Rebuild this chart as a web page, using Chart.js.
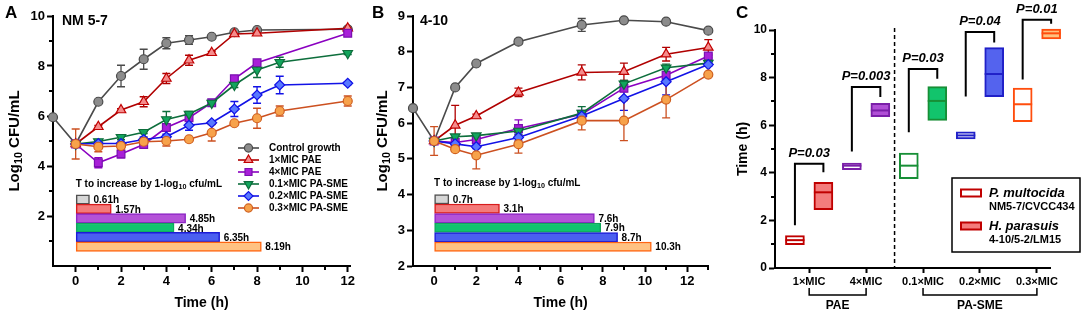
<!DOCTYPE html>
<html>
<head>
<meta charset="utf-8">
<script src="https://cdn.jsdelivr.net/npm/chart.js@4.4.0/dist/chart.umd.min.js"></script>
<style>
  body { margin: 0; background: #fff; width: 1084px; height: 314px; position: relative; overflow: hidden; }
  canvas { position: absolute; top: 0; }
</style>
</head>
<body>
<canvas id="chartA" width="360" height="314" style="left:0px"></canvas>
<canvas id="chartB" width="350" height="314" style="left:365px"></canvas>
<canvas id="chartC" width="364" height="314" style="left:720px"></canvas>
<script>
// ---------- data ----------
var seriesNames = ['Control growth', '1×MIC PAE', '4×MIC PAE', '0.1×MIC PA-SME', '0.2×MIC PA-SME', '0.3×MIC PA-SME'];

// panel A : NM 5-7
var timeA = [-1, 0, 1, 2, 3, 4, 5, 6, 7, 8, 9, 12];
var controlA = [5.95, 4.88, 6.57, 7.6, 8.27, 8.91, 9.04, 9.17, 9.35, 9.44, null, 9.47];
var mic1A    = [null, 4.88, 5.57, 6.24, 6.57, 7.5, 8.23, 8.53, 9.28, 9.31, null, 9.51];
var mic4A    = [null, 4.88, 4.13, 4.48, 4.86, 5.54, 5.93, 6.53, 7.49, 8.13, null, 9.31];
var sme01A   = [null, 4.88, 4.98, 5.15, 5.35, 5.86, 6.08, 6.52, 7.24, 7.84, 8.15, 8.51];
var sme02A   = [null, 4.88, 4.9, 4.9, 5.06, 5.17, 5.63, 5.73, 6.28, 6.84, 7.24, 7.31];
var sme03A   = [null, 4.88, 4.77, 4.8, 4.97, 5.0, 5.07, 5.33, 5.71, 5.91, 6.2, 6.6];
var controlAErr = [0, 0, 0, 0.43, 0.4, 0.22, 0.17, 0.05, 0.05, 0.05, 0, 0.05];
var mic1AErr    = [0, 0, 0.05, 0.05, 0.2, 0.2, 0.2, 0.05, 0.05, 0.05, 0, 0.05];
var mic4AErr    = [0, 0, 0.2, 0.15, 0.1, 0.1, 0.1, 0.05, 0.05, 0.05, 0, 0.05];
var sme01AErr   = [0, 0, 0.05, 0.1, 0.05, 0.32, 0.1, 0.05, 0.1, 0.3, 0.2, 0.05];
var sme02AErr   = [0, 0, 0.1, 0.33, 0.1, 0.1, 0.2, 0.05, 0.3, 0.33, 0.35, 0.05];
var sme03AErr   = [0, 0.6, 0.2, 0.1, 0.15, 0.2, 0.05, 0.33, 0.05, 0.4, 0.2, 0.2];
var riseTimeA = [0.61, 1.57, 4.85, 4.34, 6.35, 8.19];

// panel B : 4-10
var timeB = [-1, 0, 1, 2, 4, 7, 9, 11, 13];
var controlB = [6.42, 5.5, 7.0, 7.67, 8.28, 8.75, 8.88, 8.84, 8.59];
var mic1B    = [null, 5.5, 5.94, 6.2, 6.86, 7.42, 7.44, 7.93, 8.12];
var mic4B    = [null, 5.5, 5.46, 5.54, 5.85, 6.25, 6.98, 7.34, 7.88];
var sme01B   = [null, 5.5, 5.62, 5.65, 5.78, 6.28, 7.1, 7.55, 7.68];
var sme02B   = [null, 5.5, 5.42, 5.34, 5.6, 6.2, 6.69, 7.16, 7.64];
var sme03B   = [null, 5.5, 5.27, 5.1, 5.41, 6.07, 6.07, 6.66, 7.36];
var controlBErr = [0, 0, 0, 0, 0.07, 0.18, 0.05, 0.05, 0.05];
var mic1BErr    = [0, 0, 0.56, 0.05, 0.12, 0.21, 0.24, 0.19, 0.22];
var mic4BErr    = [0, 0, 0.05, 0.05, 0.24, 0.1, 0.1, 0.1, 0.05];
var sme01BErr   = [0, 0, 0.05, 0.05, 0.1, 0.18, 0.1, 0.1, 0.05];
var sme02BErr   = [0, 0, 0.05, 0.05, 0.1, 0.1, 0.33, 0.37, 0.05];
var sme03BErr   = [0, 0.4, 0.05, 0.38, 0.25, 0.26, 0.56, 0.51, 0.05];
var riseTimeB = [0.7, 3.1, 7.6, 7.9, 8.7, 10.3];

// panel C : time to rise, two species per treatment
var groupsC = ['1×MIC', '4×MIC', '0.1×MIC', '0.2×MIC', '0.3×MIC'];
var multocidaLow  = [0.98, 4.13, 3.75, 5.42, 6.15];
var multocidaHigh = [1.36, 4.41, 4.83, 5.72, 7.56];
var multocidaMid  = [1.17, 4.3, 4.3, 5.57, 6.88];
var parasuisLow   = [2.45, 6.36, 6.2, 7.2, 9.62];
var parasuisHigh  = [3.6, 6.92, 7.62, 9.26, 10.04];
var parasuisMid   = [3.18, 6.62, 7.02, 8.15, 9.86];
var pValues = ['P=0.03', 'P=0.003', 'P=0.03', 'P=0.04', 'P=0.01'];
var bracketTop   = [4.38, 7.6, 8.36, 9.92, 10.43];
var bracketLeft  = [1.8, 4.9, 5.7, 7.21, 7.92];
var bracketRight = [4.02, 7.18, 7.95, 9.48, 10.26];

// ---------- styles ----------
var FONT = '"Liberation Sans", Arial, sans-serif';
var lineColors  = ['#4a4a4a', '#b00000', '#8a00c0', '#0d6e3c', '#1212e6', '#cc5020'];
var pointFills  = ['#8c8c8c', '#f58c8c', '#a81fd8', '#12a55c', '#5878ff', '#f7a24b'];
var pointEdges  = ['#4a4a4a', '#c00000', '#7a10b0', '#0d6e3c', '#1212e6', '#d0601f'];
var pointShapes = ['circle', 'triangle', 'rect', 'triangle', 'rectRot', 'circle'];
var pointRot    = [0, 0, 0, 180, 0, 0];
var pointSizes  = [4.5, 5.5, 5.5, 5.5, 5, 4.5];
var barFills = ['#d6d6d6', '#f47a7a', '#b452d8', '#10c46e', '#4b5ff0', '#ffc282'];
var barEdges = ['#505050', '#d81c1c', '#8c26c4', '#10a85c', '#1c1cd8', '#ff6612'];
var boxEdges = ['#c00000', '#7a1fa8', '#178f36', '#2020c8', '#ff4d0d'];
var boxFills = ['#f47c7c', '#b04fd6', '#12c46c', '#5463ee', '#ffc27f'];

Chart.defaults.font.family = FONT;
Chart.defaults.font.weight = 'bold';
Chart.defaults.color = '#000';
Chart.defaults.animation = false;

function fixSize(size) {
  return function (scale) {
    if (scale.axis === 'x') scale.height = size; else scale.width = size;
  };
}
function ticksAt(values) {
  return function (scale) {
    scale.ticks = values.map(function (v) { return { value: v }; });
  };
}
function axis(opts) {
  return Object.assign({
    type: 'linear',
    offset: false,
    grid: { drawOnChartArea: false, offset: false, tickLength: 6, tickWidth: 2, tickColor: '#000' },
    border: { color: '#000', width: 2 },
    ticks: { font: { size: 13, weight: 'bold' }, color: '#000', padding: 2, maxRotation: 0, autoSkip: false }
  }, opts);
}

// text with a subscript part: parts = [[text, isSub], ...]
function subText(ctx, parts, x, y, size, align) {
  var w = 0;
  parts.forEach(function (p) {
    ctx.font = 'bold ' + (p[1] ? size * 0.72 : size) + 'px ' + FONT;
    w += ctx.measureText(p[0]).width;
  });
  var cx = align === 'center' ? x - w / 2 : x;
  ctx.textAlign = 'left';
  ctx.textBaseline = 'middle';
  parts.forEach(function (p) {
    var s = p[1] ? size * 0.72 : size;
    ctx.font = 'bold ' + s + 'px ' + FONT;
    ctx.fillText(p[0], cx, y + (p[1] ? size * 0.3 : 0));
    cx += ctx.measureText(p[0]).width;
  });
}

function minorTicks(ctx, chart, xs, ys) {
  var area = chart.chartArea;
  ctx.strokeStyle = '#000';
  ctx.lineWidth = 2;
  ctx.beginPath();
  (xs || []).forEach(function (v) {
    var px = Math.round(chart.scales.x.getPixelForValue(v));
    ctx.moveTo(px, area.bottom); ctx.lineTo(px, area.bottom + 4);
  });
  (ys || []).forEach(function (v) {
    var py = Math.round(chart.scales.y.getPixelForValue(v));
    ctx.moveTo(area.left, py); ctx.lineTo(area.left - 4, py);
  });
  ctx.stroke();
}

function growthDecor(opt) {
  return {
    id: 'growthDecor',
    beforeDatasetsDraw: function (chart) {
      var ctx = chart.ctx, ys = chart.scales.y;
      ctx.save();
      chart.data.datasets.forEach(function (ds, i) {
        if (!ds.errors) return;
        var meta = chart.getDatasetMeta(i);
        ctx.strokeStyle = ds.borderColor;
        ctx.lineWidth = 1.3;
        meta.data.forEach(function (el, k) {
          var e = ds.errors[k];
          if (!e) return;
          var v = ds.data[k].y;
          var top = ys.getPixelForValue(v + e), bot = ys.getPixelForValue(v - e);
          ctx.beginPath();
          ctx.moveTo(el.x, top); ctx.lineTo(el.x, bot);
          ctx.moveTo(el.x - 4, top); ctx.lineTo(el.x + 4, top);
          ctx.moveTo(el.x - 4, bot); ctx.lineTo(el.x + 4, bot);
          ctx.stroke();
        });
      });
      ctx.restore();
    },
    afterDatasetsDraw: function (chart) {
      var ctx = chart.ctx;
      ctx.save();
      chart.data.datasets.forEach(function (ds, i) {
        if (ds.type !== 'bar') return;
        ctx.font = 'bold 10px ' + FONT;
        ctx.fillStyle = '#000';
        ctx.textAlign = 'left';
        ctx.textBaseline = 'middle';
        chart.getDatasetMeta(i).data.forEach(function (el, k) {
          ctx.fillText(opt.rise[k] + 'h', el.x + 4, el.y + 1);
        });
      });
      ctx.restore();
    },
    afterDraw: function (chart) {
      var ctx = chart.ctx, area = chart.chartArea;
      var xs = chart.scales.x, ys = chart.scales.y;
      ctx.save();
      minorTicks(ctx, chart, opt.minorX, opt.minorY);
      ctx.fillStyle = '#000';

      // axis titles
      ctx.save();
      ctx.translate(opt.yTitleX, (area.top + area.bottom) / 2);
      ctx.rotate(-Math.PI / 2);
      subText(ctx, [['Log', false], ['10', true], [' CFU/mL', false]], 0, 0, 15, 'center');
      ctx.restore();
      ctx.font = 'bold 14px ' + FONT;
      ctx.textAlign = 'center';
      ctx.textBaseline = 'middle';
      ctx.fillText('Time (h)', (area.left + area.right) / 2, 303);

      // panel letter and strain
      ctx.font = 'bold 17px ' + FONT;
      ctx.textAlign = 'left';
      ctx.fillText(opt.letter, opt.letterX, 13);
      ctx.font = 'bold 14px ' + FONT;
      ctx.fillText(opt.strain, opt.strainX, 21);

      // inset title
      subText(ctx, [['T to increase by 1-log', false], ['10', true], [' cfu/mL', false]],
        xs.getPixelForValue(0), ys.getPixelForValue(opt.insetTitleY), 10, 'left');

      // legend
      if (opt.legend) {
        var L = opt.legend;
        chart.data.datasets.forEach(function (ds, s) {
          if (ds.type === 'bar') return;
          var y = L.y + s * L.step;
          ctx.strokeStyle = ds.borderColor;
          ctx.lineWidth = 1.6;
          ctx.beginPath(); ctx.moveTo(L.x, y); ctx.lineTo(L.x + 21, y); ctx.stroke();
          ctx.fillStyle = ds.pointBackgroundColor;
          ctx.strokeStyle = ds.pointBorderColor;
          ctx.lineWidth = 1.2;
          Chart.helpers.drawPoint(ctx, { pointStyle: ds.pointStyle, rotation: ds.pointRotation, radius: ds.pointRadius * 0.9, borderWidth: 1.2 }, L.x + 10.5, y);
          ctx.fillStyle = '#000';
          ctx.font = 'bold 10px ' + FONT;
          ctx.textAlign = 'left';
          ctx.textBaseline = 'middle';
          ctx.fillText(ds.label, L.x + 31, y);
        });
      }
      ctx.restore();
    }
  };
}

function buildGrowthChart(id, opt) {
  var datasets = opt.series.map(function (vals, s) {
    var pts = [], errs = [];
    vals.forEach(function (v, k) {
      if (v !== null) { pts.push({ x: opt.time[k], y: v }); errs.push(opt.errors[s][k]); }
    });
    return {
      type: 'line', label: seriesNames[s], data: pts, errors: errs,
      borderColor: lineColors[s], borderWidth: 1.6, tension: 0, fill: false, clip: false,
      pointStyle: pointShapes[s], pointRotation: pointRot[s], pointRadius: pointSizes[s],
      pointBackgroundColor: pointFills[s], pointBorderColor: pointEdges[s], pointBorderWidth: 1.2,
      order: 6 - s
    };
  });
  datasets.push({
    type: 'bar', indexAxis: 'y', label: 'rise',
    data: opt.rise.map(function (v, i) { return { x: [0, v], y: opt.rowTop - i * opt.rowStep }; }),
    backgroundColor: barFills, borderColor: barEdges, borderWidth: 1.5, borderSkipped: false,
    barThickness: 9.5, order: 10
  });
  return new Chart(document.getElementById(id), {
    type: 'line',
    data: { datasets: datasets },
    options: {
      responsive: false,
      events: [],
      layout: { padding: opt.padding },
      plugins: { legend: { display: false }, tooltip: { enabled: false } },
      scales: {
        x: axis({ min: opt.xMin, max: opt.xMax, afterBuildTicks: ticksAt(opt.majorX), afterFit: fixSize(48) }),
        y: axis({ min: opt.yMin, max: opt.yMax, afterBuildTicks: ticksAt(opt.majorY), afterFit: fixSize(opt.yWidth) })
      }
    },
    plugins: [growthDecor(opt)]
  });
}

buildGrowthChart('chartA', {
  time: timeA,
  series: [controlA, mic1A, mic4A, sme01A, sme02A, sme03A],
  errors: [controlAErr, mic1AErr, mic4AErr, sme01AErr, sme02AErr, sme03AErr],
  rise: riseTimeA, rowTop: 2.66, rowStep: 0.377, insetTitleY: 3.28,
  xMin: -1, xMax: 12.1, yMin: 0, yMax: 10,
  majorX: [0, 2, 4, 6, 8, 10, 12], minorX: [1, 3, 5, 7, 9, 11],
  majorY: [2, 4, 6, 8, 10], minorY: [1, 3, 5, 7, 9],
  yWidth: 53, padding: { left: 0, right: 10, top: 16, bottom: 0 },
  yTitleX: 15, letter: 'A', letterX: 5, strain: 'NM 5-7', strainX: 62,
  legend: { x: 238, y: 148, step: 12 }
});

buildGrowthChart('chartB', {
  time: timeB,
  series: [controlB, mic1B, mic4B, sme01B, sme02B, sme03B],
  errors: [controlBErr, mic1BErr, mic4BErr, sme01BErr, sme02BErr, sme03BErr],
  rise: riseTimeB, rowTop: 3.87, rowStep: 0.266, insetTitleY: 4.32,
  xMin: -1, xMax: 13, yMin: 2, yMax: 9,
  majorX: [0, 2, 4, 6, 8, 10, 12], minorX: [1, 3, 5, 7, 9, 11, 13],
  majorY: [2, 3, 4, 5, 6, 7, 8, 9], minorY: [],
  yWidth: 48, padding: { left: 0, right: 4, top: 16, bottom: 0 },
  yTitleX: 18, letter: 'B', letterX: 7, strain: '4-10', strainX: 55,
  legend: null
});

// ---------- panel C ----------
var boxShift = 0.25;
var decorC = {
  id: 'decorC',
  afterDatasetsDraw: function (chart) {
    var ctx = chart.ctx, ys = chart.scales.y;
    ctx.save();
    chart.data.datasets.forEach(function (ds, i) {
      chart.getDatasetMeta(i).data.forEach(function (el, k) {
        var y = ys.getPixelForValue(ds.mids[k]);
        ctx.strokeStyle = boxEdges[k];
        ctx.lineWidth = 2;
        ctx.beginPath();
        ctx.moveTo(el.x - el.width / 2, y); ctx.lineTo(el.x + el.width / 2, y);
        ctx.stroke();
      });
    });
    ctx.restore();
  },
  afterDraw: function (chart) {
    var ctx = chart.ctx, area = chart.chartArea;
    var xs = chart.scales.x, ys = chart.scales.y;
    ctx.save();
    minorTicks(ctx, chart, [], [1, 3, 5, 7, 9]);

    // significance brackets
    groupsC.forEach(function (g, i) {
      var xl = xs.getPixelForValue(i - boxShift), xr = xs.getPixelForValue(i + boxShift);
      var yt = ys.getPixelForValue(bracketTop[i]);
      ctx.strokeStyle = '#000';
      ctx.lineWidth = 2;
      ctx.beginPath();
      ctx.moveTo(xl, ys.getPixelForValue(bracketLeft[i]));
      ctx.lineTo(xl, yt); ctx.lineTo(xr, yt);
      ctx.lineTo(xr, ys.getPixelForValue(bracketRight[i]));
      ctx.stroke();
      ctx.fillStyle = '#000';
      ctx.font = 'italic bold 13px ' + FONT;
      ctx.textAlign = 'center';
      ctx.textBaseline = 'bottom';
      ctx.fillText(pValues[i], (xl + xr) / 2, yt - 4);
    });

    // dashed separator
    var xd = xs.getPixelForValue(1.5);
    ctx.setLineDash([4, 3]);
    ctx.lineWidth = 1.5;
    ctx.beginPath(); ctx.moveTo(xd, area.top - 2); ctx.lineTo(xd, area.bottom); ctx.stroke();
    ctx.setLineDash([]);

    // group brackets under the axis
    [[0, 1, 'PAE'], [2, 4, 'PA-SME']].forEach(function (gr) {
      var x0 = xs.getPixelForValue(gr[0]), x1 = xs.getPixelForValue(gr[1]);
      var yb = area.bottom + 27;
      ctx.lineWidth = 1.5;
      ctx.beginPath();
      ctx.moveTo(x0, yb - 7); ctx.lineTo(x0, yb); ctx.lineTo(x1, yb); ctx.lineTo(x1, yb - 7);
      ctx.stroke();
      ctx.font = 'bold 12px ' + FONT;
      ctx.textAlign = 'center';
      ctx.textBaseline = 'middle';
      ctx.fillText(gr[2], (x0 + x1) / 2, area.bottom + 38);
    });

    // axis title and panel letter
    ctx.save();
    ctx.translate(23, (area.top + area.bottom) / 2);
    ctx.rotate(-Math.PI / 2);
    ctx.font = 'bold 14px ' + FONT;
    ctx.textAlign = 'center';
    ctx.textBaseline = 'middle';
    ctx.fillText('Time (h)', 0, 0);
    ctx.restore();
    ctx.font = 'bold 17px ' + FONT;
    ctx.textAlign = 'left';
    ctx.textBaseline = 'middle';
    ctx.fillText('C', 16, 13);

    // legend box
    var bx = 232, by = 178;
    ctx.lineWidth = 1.5;
    ctx.strokeStyle = '#000';
    ctx.strokeRect(bx, by, 128, 74);
    [[chart.data.datasets[0], 'NM5-7/CVCC434', 15], [chart.data.datasets[1], '4-10/5-2/LM15', 48]].forEach(function (it) {
      var ds = it[0], y = by + it[2];
      ctx.fillStyle = ds.backgroundColor === '#ffffff' ? '#ffffff' : boxFills[0];
      ctx.strokeStyle = boxEdges[0];
      ctx.lineWidth = 2;
      ctx.fillRect(bx + 9, y - 3.5, 20, 7);
      ctx.strokeRect(bx + 9, y - 3.5, 20, 7);
      ctx.fillStyle = '#000';
      ctx.textAlign = 'left';
      ctx.textBaseline = 'middle';
      ctx.font = 'italic bold 13px ' + FONT;
      ctx.fillText(ds.label, bx + 37, y);
      ctx.font = 'bold 11px ' + FONT;
      ctx.fillText(it[1], bx + 37, y + 14);
    });
    ctx.restore();
  }
};

new Chart(document.getElementById('chartC'), {
  type: 'bar',
  data: {
    datasets: [
      {
        label: 'P. multocida', mids: multocidaMid,
        data: groupsC.map(function (g, i) { return { x: i - boxShift, y: [multocidaLow[i], multocidaHigh[i]] }; }),
        backgroundColor: '#ffffff', borderColor: boxEdges, borderWidth: 2, borderSkipped: false,
        barThickness: 19, grouped: false, clip: false
      },
      {
        label: 'H. parasuis', mids: parasuisMid,
        data: groupsC.map(function (g, i) { return { x: i + boxShift, y: [parasuisLow[i], parasuisHigh[i]] }; }),
        backgroundColor: boxFills, borderColor: boxEdges, borderWidth: 2, borderSkipped: false,
        barThickness: 19, grouped: false, clip: false
      }
    ]
  },
  options: {
    responsive: false,
    events: [],
    layout: { padding: { left: 0, right: 34, top: 30, bottom: 0 } },
    plugins: { legend: { display: false }, tooltip: { enabled: false } },
    scales: {
      x: axis({
        min: -0.6, max: 4.23, afterBuildTicks: ticksAt([0, 1, 2, 3, 4]), afterFit: fixSize(46),
        ticks: { font: { size: 11, weight: 'bold' }, color: '#000', padding: 2, maxRotation: 0, autoSkip: false,
          callback: function (v) { return groupsC[v]; } },
        grid: { drawOnChartArea: false, offset: false, tickLength: 5, tickWidth: 2, tickColor: '#000' }
      }),
      y: axis({
        min: 0, max: 10, afterBuildTicks: ticksAt([0, 2, 4, 6, 8, 10]), afterFit: fixSize(55),
        ticks: { font: { size: 12, weight: 'bold' }, color: '#000', padding: 2 }
      })
    }
  },
  plugins: [decorC]
});
</script>
</body>
</html>
